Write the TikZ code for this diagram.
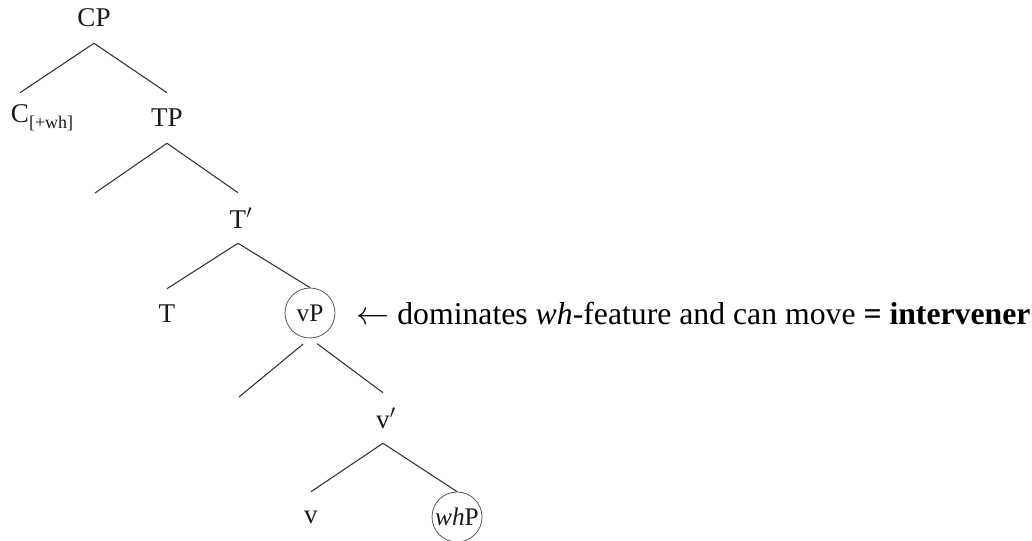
\documentclass[tikz,border=0pt]{standalone}
\usepackage{fontspec}
\setmainfont{Liberation Serif}
\begin{document}
\begin{tikzpicture}[x=0.75pt,y=-0.75pt,
  lab/.style={inner sep=0pt,minimum height=37.5pt,text=black!90,font=\fontsize{20.3}{24}\selectfont},
  circ/.style={circle,draw=black!65,line width=0.6pt,inner sep=0pt,minimum size=37.5pt,text=black!90,font=\fontsize{19}{23}\selectfont},
  branch/.style={draw=black!80,line width=0.8pt},
  note/.style={anchor=west,inner sep=0pt,text=black,font=\fontsize{23.8}{28}\selectfont}]
\useasboundingbox (0,0) rectangle (1032,541);
\node[lab] (CP) at (94,18) {CP};
\node[lab] (C) at (20,118) {C\rlap{\raisebox{-0.5ex}{\fontsize{13.5}{16}\selectfont[+wh]}}};
\node[lab] (TP) at (167,118) {TP};
\coordinate (TPl) at (95,193);
\node[lab] (Tb) at (238,218) {T\rlap{$'$}};
\node[lab] (T) at (167,314) {T};
\node[circ] (vP) at (310,313) {vP};
\coordinate (vPl) at (239,397);
\node[lab] (vb) at (383,418) {v\rlap{$'$}};
\node[lab] (v) at (311,517) {v};
\node[circ] (whP) at (457,517) {\textit{wh}P};
\node[note] (ann) at (356,313) {$\leftarrow$ dominates \textit{wh}-feature and can move \textbf{= intervener}};
\draw[branch] (CP.south) -- (C.north);
\draw[branch] (CP.south) -- (TP.north);
\draw[branch] (TP.south) -- (TPl);
\draw[branch] (TP.south) -- (Tb.north);
\draw[branch] (Tb.south) -- (T.north);
\draw[branch] (Tb.south) -- (vP.north);
\draw[branch,shorten <=6.75pt] (vP.south) -- (vPl);
\draw[branch,shorten <=6.75pt] (vP.south) -- (vb.north);
\draw[branch] (vb.south) -- (v.north);
\draw[branch] (vb.south) -- (whP.north);
\end{tikzpicture}
\end{document}
